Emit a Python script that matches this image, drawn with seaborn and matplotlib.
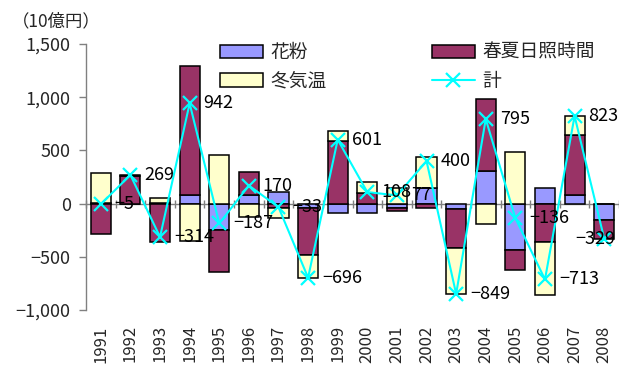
import numpy as np
import matplotlib
matplotlib.use("Agg")
import matplotlib.pyplot as plt
import seaborn as sns
from matplotlib.patches import Patch
from matplotlib.lines import Line2D
from matplotlib.ticker import FuncFormatter

# 要因別の寄与額（10億円）
years = [str(y) for y in range(1991, 2009)]
pollen = [5, 0, 8, 85, -245, 80, 105, -40, -85, -92, -40, 142, -55, 305, -440, 150, 85, -155]
sunshine = [-290, 262, -364, 1207, -396, 220, -40, -440, 586, 100, -28, -38, -365, 680, -181, -360, 560, -174]
winter_temp = [280, 7, 42, -350, 454, -130, -98, -216, 100, 100, 145, 296, -429, -190, 485, -503, 178, 0]
total = [-5, 269, -314, 942, -187, 170, -33, -696, 601, 108, 77, 400, -849, 795, -136, -713, 823, -329]

series = [
    ("花粉", pollen, "#9999FF"),
    ("春夏日照時間", sunshine, "#993366"),
    ("冬気温", winter_temp, "#FFFFCC"),
]
line_color = "#00FFFF"

sns.set_theme(style="white")
plt.rcParams["font.family"] = ["Noto Sans CJK JP", "DejaVu Sans"]
plt.rcParams["axes.unicode_minus"] = True

W, H = 619, 365
fig = plt.figure(figsize=(W / 100, H / 100), dpi=100)
ax = fig.add_axes([86 / W, 1 - 310 / H, 1 - 86 / W, (310 - 44) / H])

x = np.arange(len(years))
pos_base = np.zeros(len(years))
neg_base = np.zeros(len(years))
for name, vals, color in series:
    v = np.asarray(vals, dtype=float)
    base = np.where(v >= 0, pos_base, neg_base)
    ax.bar(x, v, bottom=base, width=0.68, color=color, edgecolor="black",
           linewidth=1.1, zorder=2)
    pos_base += np.clip(v, 0, None)
    neg_base += np.clip(v, None, 0)

sns.lineplot(x=x, y=total, ax=ax, color=line_color, linewidth=1.5,
             marker="x", markersize=10, markeredgewidth=1.6,
             markeredgecolor=line_color, zorder=4)


def fmt_num(v):
    return f"{int(v):,}".replace("-", "\u2212")


last = len(total) - 1
for i, (xi, v) in enumerate(zip(x, total)):
    # the final label sits on the left side so it stays inside the figure
    if i == last:
        off, ha = (8, 0), "right"
    else:
        off, ha = (10, 0), "left"
    ax.annotate(fmt_num(v), (xi, v), xytext=off, textcoords="offset points",
                ha=ha, va="center", fontsize=13, color="black", zorder=5)

ymin, ymax = -1000, 1500
ax.set_ylim(ymin, ymax)
ax.set_xlim(-0.5, len(years) - 0.5)
ax.set_yticks(np.arange(ymin, ymax + 1, 500))
ax.yaxis.set_major_formatter(FuncFormatter(lambda v, p: fmt_num(v)))
ax.tick_params(axis="y", direction="out", length=5, width=1, color="#808080",
               labelsize=13, pad=6, left=True)

ax.set_xticks(x, years, rotation=90)
ax.tick_params(axis="x", length=0, labelsize=12, pad=11)

for side in ["top", "right", "bottom"]:
    ax.spines[side].set_visible(False)
ax.spines["left"].set_color("#808080")
ax.spines["left"].set_linewidth(1)

# horizontal axis drawn at zero with category-boundary ticks
zero_frac = (0 - ymin) / (ymax - ymin)
sec = ax.secondary_xaxis(zero_frac)
sec.set_xticks(np.arange(-0.5, len(years), 1))
sec.tick_params(direction="inout", length=6, width=1, color="#808080",
                labelbottom=False)
sec.spines["bottom"].set_color("#808080")
sec.spines["bottom"].set_linewidth(1)
ax.grid(False)

fig.text(12 / W, 1 - 21 / H, "\uff0810億円\uff09", ha="left", va="center",
         fontsize=12.5)

handles = [
    Patch(facecolor=series[0][2], edgecolor="black", linewidth=1.1, label=series[0][0]),
    Patch(facecolor=series[2][2], edgecolor="black", linewidth=1.1, label=series[2][0]),
    Patch(facecolor=series[1][2], edgecolor="black", linewidth=1.1, label=series[1][0]),
    Line2D([], [], color=line_color, linewidth=1.5, marker="x", markersize=10,
           markeredgewidth=1.6, label="計"),
]
fig.legend(handles=handles, ncol=2, loc="upper left",
           bbox_to_anchor=(220 / W, 1 - 42 / H), frameon=False, fontsize=13.5,
           handlelength=2.3, handleheight=0.75, handletextpad=0.4,
           columnspacing=5.6, labelspacing=0.4, borderpad=0, borderaxespad=0)

fig.savefig("out.png", dpi=100)
